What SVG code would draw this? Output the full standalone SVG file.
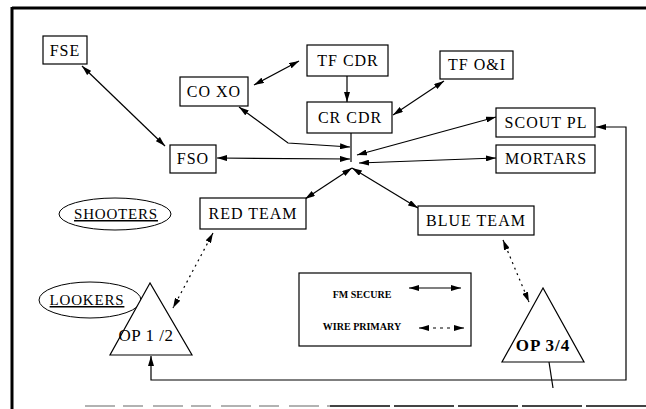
<svg xmlns="http://www.w3.org/2000/svg" width="646" height="409" viewBox="0 0 646 409">
<defs>
<marker id="ah" viewBox="0 0 10 6" refX="10" refY="3" markerWidth="10" markerHeight="6" markerUnits="userSpaceOnUse" orient="auto-start-reverse">
<path d="M0,0 L10,3 L0,6 z" fill="#000"/>
</marker>
<style>
.box{fill:#fff;stroke:#000;stroke-width:1.2}
.lbl{font-family:"Liberation Serif","Times New Roman",serif;font-size:16px;letter-spacing:1px;fill:#000;text-anchor:middle}
.op{font-family:"Liberation Serif","Times New Roman",serif;font-size:17px;letter-spacing:0.5px;fill:#000;text-anchor:middle}
.leg{font-family:"Liberation Serif","Times New Roman",serif;font-size:10px;font-weight:bold;fill:#000;text-anchor:middle}
.ln{fill:none;stroke:#000;stroke-width:1.2}
.two{marker-start:url(#ah);marker-end:url(#ah)}
.dot{stroke-dasharray:2 4}
.dash{stroke-dasharray:3 4}
</style>
</defs>
<rect width="646" height="409" fill="#fff"/>
<g id="frame">
<line x1="12" y1="8" x2="646" y2="8" stroke="#000" stroke-width="3"/>
<line x1="12" y1="7" x2="12" y2="409" stroke="#000" stroke-width="3"/>
<line x1="85" y1="406" x2="330" y2="406" stroke="#999" stroke-width="1.5" stroke-dasharray="30 8 20 10"/>
<line x1="330" y1="406" x2="646" y2="406" stroke="#444" stroke-width="1.8" stroke-dasharray="60 4"/>
</g>
<g id="connectors">
<line class="ln two" x1="82" y1="66" x2="165" y2="146"/>
<line class="ln two" x1="254" y1="85" x2="299" y2="61"/>
<line class="ln" x1="347" y1="76" x2="347" y2="102" marker-end="url(#ah)"/>
<line class="ln two" x1="444" y1="81" x2="393" y2="115"/>
<polyline class="ln two" points="239,107 288,143 350,147"/>
<line class="ln two" x1="217" y1="158" x2="350" y2="159"/>
<line class="ln two" x1="496" y1="117" x2="357" y2="155"/>
<line class="ln two" x1="496" y1="158" x2="359" y2="163"/>
<line class="ln" x1="351" y1="133" x2="351" y2="162"/>
<line class="ln two" x1="352" y1="168" x2="305" y2="199"/>
<line class="ln two" x1="352" y1="168" x2="418" y2="208"/>
<line class="ln two dot" x1="213" y1="233" x2="173" y2="308"/>
<line class="ln two dot" x1="503" y1="240" x2="529" y2="302"/>
<polyline class="ln two" points="151,356 151,380 626,380 626,127 596,127"/>
<line class="ln" x1="549" y1="362" x2="553" y2="388"/>
</g>
<g id="fse"><rect class="box" x="43" y="36" width="44" height="28"/><text class="lbl" x="65" y="55.5">FSE</text></g>
<g id="coxo"><rect class="box" x="180" y="77" width="68" height="29"/><text class="lbl" x="214" y="97">CO XO</text></g>
<g id="tfcdr"><rect class="box" x="307" y="45" width="81" height="31"/><text class="lbl" x="348" y="66">TF CDR</text></g>
<g id="tfoi"><rect class="box" x="440" y="51" width="73" height="28"/><text class="lbl" x="477" y="70">TF O&amp;I</text></g>
<g id="crcdr"><rect class="box" x="307" y="102" width="85" height="31"/><text class="lbl" x="350" y="123">CR CDR</text></g>
<g id="scoutpl"><rect class="box" x="496" y="108" width="99" height="29"/><text class="lbl" x="546" y="128">SCOUT PL</text></g>
<g id="mortars"><rect class="box" x="496" y="145" width="99" height="28"/><text class="lbl" x="546" y="164">MORTARS</text></g>
<g id="fso"><rect class="box" x="170" y="145" width="46" height="28"/><text class="lbl" x="193" y="164">FSO</text></g>
<g id="redteam"><rect class="box" x="200" y="198" width="106" height="31"/><text class="lbl" x="253" y="219">RED TEAM</text></g>
<g id="blueteam"><rect class="box" x="418" y="206" width="116" height="29"/><text class="lbl" x="476" y="226">BLUE TEAM</text></g>
<g id="shooters"><ellipse cx="115" cy="214" rx="56" ry="16" fill="none" stroke="#000" stroke-width="1"/><text class="lbl" x="116" y="219" style="font-size:15px;letter-spacing:0.8px;text-decoration:underline">SHOOTERS</text></g>
<g id="lookers"><ellipse cx="90" cy="300" rx="51" ry="18" fill="none" stroke="#000" stroke-width="1"/><text class="lbl" x="87" y="305" style="font-size:15px;letter-spacing:0.8px;text-decoration:underline">LOOKERS</text></g>
<g id="op12"><polygon points="150,283 110,355 192,355" fill="#fff" stroke="#000" stroke-width="1.2"/><text class="op" x="146" y="341">OP 1 /2</text></g>
<g id="op34"><polygon points="543,288 502,362 584,362" fill="#fff" stroke="#000" stroke-width="1.2"/><text class="op" x="543" y="351" style="letter-spacing:1px;font-weight:bold">OP 3/4</text></g>
<g id="legend">
<rect class="box" x="299" y="273" width="172" height="73"/>
<text class="leg" x="362" y="298">FM SECURE</text>
<text class="leg" x="362" y="330">WIRE PRIMARY</text>
<line class="ln two" x1="409" y1="288" x2="461" y2="288"/>
<line class="ln two dash" x1="419" y1="328" x2="464" y2="328"/>
</g>
</svg>
